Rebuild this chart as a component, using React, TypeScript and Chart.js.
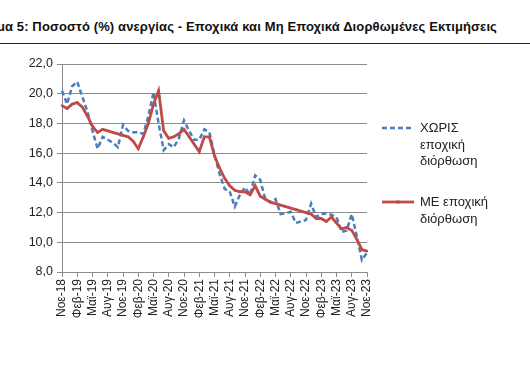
import React, { useEffect, useRef } from "react";
import { Chart, registerables } from "chart.js";

Chart.register(...registerables);

const months: string[] = [
  "Νοε-18", "Δεκ-18",
  "Ιαν-19", "Φεβ-19", "Μαρ-19", "Απρ-19", "Μαϊ-19", "Ιουν-19", "Ιουλ-19", "Αυγ-19", "Σεπ-19", "Οκτ-19", "Νοε-19", "Δεκ-19",
  "Ιαν-20", "Φεβ-20", "Μαρ-20", "Απρ-20", "Μαϊ-20", "Ιουν-20", "Ιουλ-20", "Αυγ-20", "Σεπ-20", "Οκτ-20", "Νοε-20", "Δεκ-20",
  "Ιαν-21", "Φεβ-21", "Μαρ-21", "Απρ-21", "Μαϊ-21", "Ιουν-21", "Ιουλ-21", "Αυγ-21", "Σεπ-21", "Οκτ-21", "Νοε-21", "Δεκ-21",
  "Ιαν-22", "Φεβ-22", "Μαρ-22", "Απρ-22", "Μαϊ-22", "Ιουν-22", "Ιουλ-22", "Αυγ-22", "Σεπ-22", "Οκτ-22", "Νοε-22", "Δεκ-22",
  "Ιαν-23", "Φεβ-23", "Μαρ-23", "Απρ-23", "Μαϊ-23", "Ιουν-23", "Ιουλ-23", "Αυγ-23", "Σεπ-23", "Οκτ-23", "Νοε-23",
];

// Χωρίς εποχική διόρθωση (μπλε, διακεκομμένη)
const nonAdjusted: number[] = [
  20.2, 19.3, 20.5, 20.8, 19.8, 18.8, 17.5, 16.3, 17.1, 16.9,
  16.7, 16.4, 17.9, 17.5, 17.4, 17.4, 17.3, 18.5, 20.1, 18.0,
  16.2, 16.6, 16.4, 17.0, 18.2, 17.5, 16.9, 16.9, 17.6, 17.4,
  15.9, 14.6, 13.6, 13.4, 12.4, 13.2, 13.7, 13.2, 14.5, 14.2,
  12.9, 12.7, 12.9, 11.9, 11.95, 12.05, 11.3, 11.4, 11.5, 12.6,
  11.7, 11.9, 11.95, 11.85, 11.7, 10.7, 10.8, 11.9, 10.4, 8.8,
  9.3,
];

// Με εποχική διόρθωση (κόκκινη)
const adjusted: number[] = [
  19.2, 19.0, 19.3, 19.4, 19.1, 18.5, 17.8, 17.4, 17.6, 17.5,
  17.4, 17.3, 17.2, 17.1, 16.8, 16.3, 17.1, 18.0, 19.3, 20.2,
  17.5, 17.0, 17.1, 17.3, 17.6, 17.1, 16.6, 16.1, 17.1, 17.1,
  15.8, 15.0, 14.3, 13.8, 13.5, 13.4, 13.4, 13.2, 13.8, 13.1,
  12.9, 12.7, 12.6, 12.5, 12.4, 12.3, 12.2, 12.1, 12.0, 11.9,
  11.6, 11.6, 11.4, 11.7, 11.3, 10.9, 11.0, 10.8, 10.2, 9.5,
  9.4,
];

const yMin = 8;
const yMax = 22;
const yStep = 2;

const seriesNames = ["ΧΩΡΙΣ εποχική διόρθωση", "ΜΕ εποχική διόρθωση"];
const titleText = "Διάγραμμα 5: Ποσοστό (%) ανεργίας - Εποχικά και Μη Εποχικά Διορθωμένες Εκτιμήσεις";

const BLUE = "#4a7ebb";
const RED = "#be4b48";
const GRID = "#8c8c8c";
const FONT = "'Liberation Sans', Arial, sans-serif";

export default function App() {
  const canvasRef = useRef<HTMLCanvasElement | null>(null);

  useEffect(() => {
    const canvas = canvasRef.current;
    if (!canvas) return;
    const chart = new Chart(canvas, {
      type: "line",
      data: {
        labels: months,
        datasets: [
          {
            label: seriesNames[0],
            data: nonAdjusted,
            borderColor: BLUE,
            backgroundColor: BLUE,
            borderWidth: 2.5,
            borderDash: [5, 3],
            pointRadius: 0,
            tension: 0,
            order: 1,
          },
          {
            label: seriesNames[1],
            data: adjusted,
            borderColor: RED,
            backgroundColor: RED,
            borderWidth: 2.8,
            pointStyle: "rect",
            pointRadius: 1.5,
            pointBorderWidth: 0,
            tension: 0,
            order: 0,
          },
        ],
      },
      options: {
        responsive: false,
        animation: false,
        events: [],
        layout: { padding: { left: 22, right: 163, top: 64, bottom: 48 } },
        plugins: {
          legend: { display: false },
          title: { display: false },
          tooltip: { enabled: false },
        },
        scales: {
          x: {
            type: "category",
            offset: false,
            afterFit: (s: any) => {
              s.height = 70;
            },
            grid: {
              drawOnChartArea: false,
              drawTicks: true,
              tickLength: 5,
              color: GRID,
            },
            border: { display: true, color: GRID, width: 1 },
            ticks: {
              autoSkip: false,
              maxRotation: 90,
              minRotation: 90,
              padding: 2,
              color: "#222",
              font: { family: FONT, size: 12 },
              callback: (_v: any, i: number) => (i % 3 === 0 ? months[i] : null),
            },
          },
          y: {
            min: yMin,
            max: yMax,
            afterFit: (s: any) => {
              s.width = 40;
            },
            grid: {
              color: GRID,
              lineWidth: 1,
              drawTicks: true,
              tickLength: 5,
            },
            border: { display: true, color: GRID, width: 1 },
            ticks: {
              stepSize: yStep,
              padding: 4,
              color: "#222",
              font: { family: FONT, size: 12.5 },
              callback: (v: any) => Number(v).toFixed(1).replace(".", ","),
            },
          },
        },
      },
    });
    return () => chart.destroy();
  }, []);

  const legendText: React.CSSProperties = {
    position: "absolute",
    left: 420,
    fontFamily: FONT,
    fontSize: 13,
    lineHeight: "16.5px",
    color: "#222",
    whiteSpace: "nowrap",
  };

  return (
    <div
      style={{
        position: "fixed",
        left: 0,
        top: 0,
        width: 530,
        height: 390,
        background: "#fff",
        overflow: "hidden",
      }}
    >
      <div
        style={{
          position: "absolute",
          right: 33,
          top: 19,
          whiteSpace: "nowrap",
          fontFamily: FONT,
          fontWeight: "bold",
          fontSize: 13,
          letterSpacing: "0.12px",
          color: "#111",
        }}
      >
        {titleText}
      </div>
      <div
        style={{
          position: "absolute",
          left: 0,
          top: 43,
          width: 530,
          height: 0,
          borderTop: "1.5px solid #222",
        }}
      />
      <canvas
        ref={canvasRef}
        width={530}
        height={390}
        style={{ position: "absolute", left: 0, top: 0, width: 530, height: 390 }}
      />
      <svg
        width={40}
        height={10}
        style={{ position: "absolute", left: 380, top: 123 }}
      >
        <line x1={2} y1={5} x2={34} y2={5} stroke={BLUE} strokeWidth={2.5} strokeDasharray="5 3" />
      </svg>
      <div style={{ ...legendText, top: 120 }}>
        ΧΩΡΙΣ
        <br />
        εποχική
        <br />
        διόρθωση
      </div>
      <svg
        width={40}
        height={10}
        style={{ position: "absolute", left: 380, top: 197 }}
      >
        <line x1={2} y1={5} x2={34} y2={5} stroke={RED} strokeWidth={2.8} />
        <rect x={16.5} y={3.5} width={3} height={3} fill={RED} />
      </svg>
      <div style={{ ...legendText, top: 194 }}>
        ΜΕ εποχική
        <br />
        διόρθωση
      </div>
    </div>
  );
}
